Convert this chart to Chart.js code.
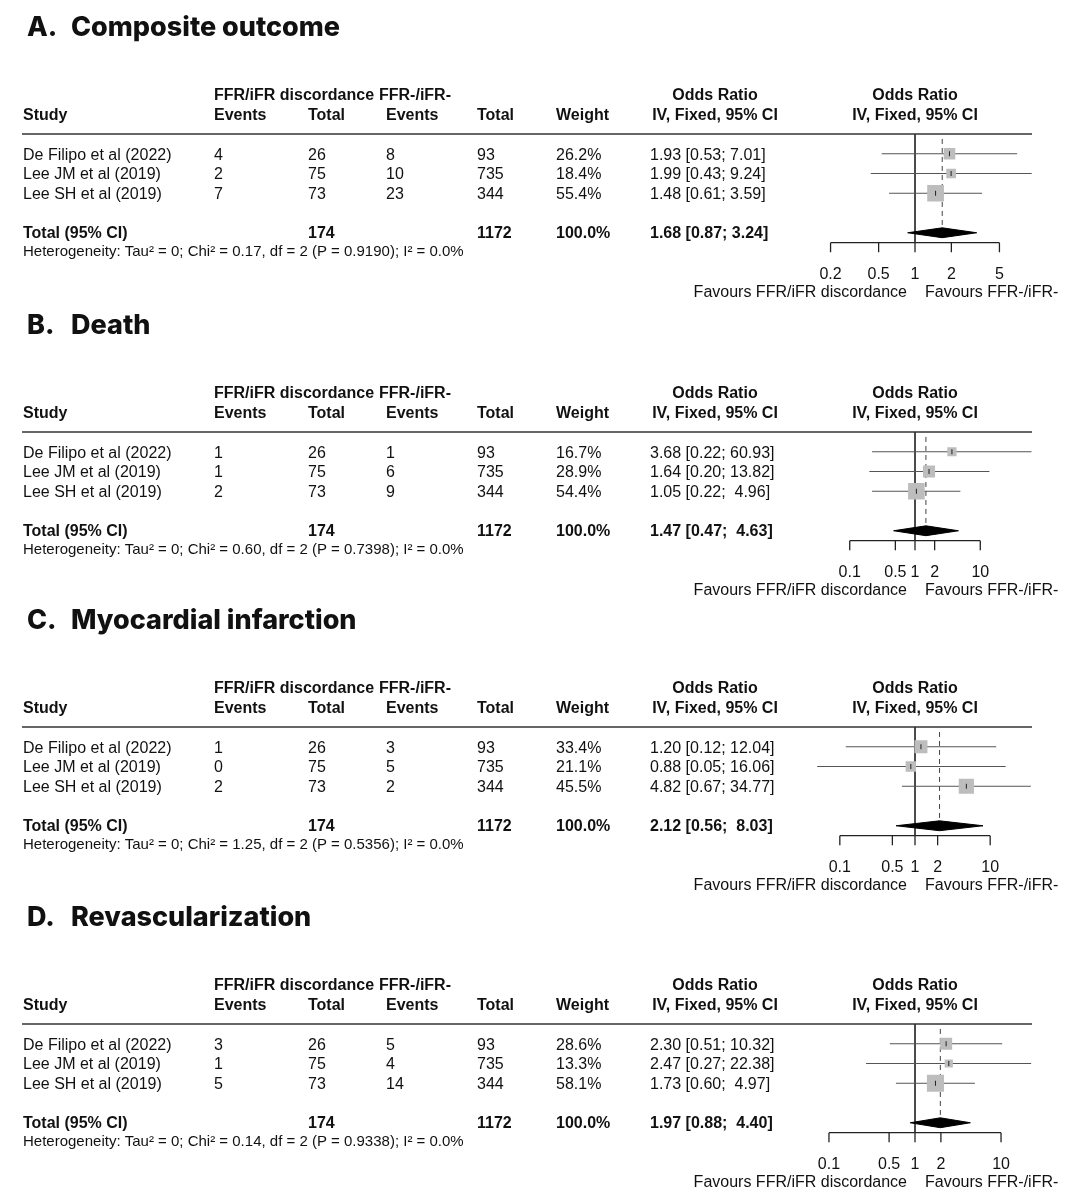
<!DOCTYPE html>
<html lang="en">
<head>
<meta charset="UTF-8" />
<title>Forest plots - FFR/iFR discordance</title>
<script src="https://cdn.jsdelivr.net/npm/chart.js"></script>
<style>
  body { margin: 0; background: #fff; }
  .panel { position: absolute; left: 0; width: 1079px; }
  canvas { display: block; }
</style>
</head>
<body>
  <div class="panel" style="top:0px"><canvas id="panel0" width="1079" height="302"></canvas></div>
  <div class="panel" style="top:298px"><canvas id="panel1" width="1079" height="302"></canvas></div>
  <div class="panel" style="top:593px"><canvas id="panel2" width="1079" height="302"></canvas></div>
  <div class="panel" style="top:890px"><canvas id="panel3" width="1079" height="310"></canvas></div>

<script>
// ---- data ----
const panelLetters = ['A.', 'B.', 'C.', 'D.'];
const panelTitles = ['Composite outcome', 'Death', 'Myocardial infarction', 'Revascularization'];
const studies = ['De Filipo et al (2022)', 'Lee JM et al (2019)', 'Lee SH et al (2019)'];
const discTotal = [26, 75, 73];
const negTotal = [93, 735, 344];
const discSum = 174;
const negSum = 1172;

const discEvents = [[4, 2, 7], [1, 1, 2], [1, 0, 2], [3, 1, 5]];
const negEvents = [[8, 10, 23], [1, 6, 9], [3, 5, 2], [5, 4, 14]];
const weights = [[26.2, 18.4, 55.4], [16.7, 28.9, 54.4], [33.4, 21.1, 45.5], [28.6, 13.3, 58.1]];
const orEst = [[1.93, 1.99, 1.48], [3.68, 1.64, 1.05], [1.20, 0.88, 4.82], [2.30, 2.47, 1.73]];
const orLow = [[0.53, 0.43, 0.61], [0.22, 0.20, 0.22], [0.12, 0.05, 0.67], [0.51, 0.27, 0.60]];
const orHigh = [[7.01, 9.24, 3.59], [60.93, 13.82, 4.96], [12.04, 16.06, 34.77], [10.32, 22.38, 4.97]];
const orLabels = [
  ['1.93 [0.53; 7.01]', '1.99 [0.43; 9.24]', '1.48 [0.61; 3.59]'],
  ['3.68 [0.22; 60.93]', '1.64 [0.20; 13.82]', '1.05 [0.22;  4.96]'],
  ['1.20 [0.12; 12.04]', '0.88 [0.05; 16.06]', '4.82 [0.67; 34.77]'],
  ['2.30 [0.51; 10.32]', '2.47 [0.27; 22.38]', '1.73 [0.60;  4.97]']
];
const pooledEst = [1.68, 1.47, 2.12, 1.97];
const pooledLow = [0.87, 0.47, 0.56, 0.88];
const pooledHigh = [3.24, 4.63, 8.03, 4.40];
const pooledLabels = ['1.68 [0.87; 3.24]', '1.47 [0.47;  4.63]', '2.12 [0.56;  8.03]', '1.97 [0.88;  4.40]'];
const hetLabels = [
  'Heterogeneity: Tau\u00b2 = 0; Chi\u00b2 = 0.17, df = 2 (P = 0.9190); I\u00b2 = 0.0%',
  'Heterogeneity: Tau\u00b2 = 0; Chi\u00b2 = 0.60, df = 2 (P = 0.7398); I\u00b2 = 0.0%',
  'Heterogeneity: Tau\u00b2 = 0; Chi\u00b2 = 1.25, df = 2 (P = 0.5356); I\u00b2 = 0.0%',
  'Heterogeneity: Tau\u00b2 = 0; Chi\u00b2 = 0.14, df = 2 (P = 0.9338); I\u00b2 = 0.0%'
];
const axisTicks = [[0.2, 0.5, 1, 2, 5], [0.1, 0.5, 1, 2, 10], [0.1, 0.5, 1, 2, 10], [0.1, 0.5, 1, 2, 10]];
const xLimits = [9.3, 62, 36, 22.9];

// ---- layout ----
const ROW_PX = 19.75;
const TOP = 134;
const PLOT_LEFT = 798;
const PLOT_RIGHT = 1032;
const TEXT = '#111';
const FONT = '"Liberation Sans", Arial, sans-serif';

Chart.defaults.font.family = FONT;

function seg(x1, y1, x2, y2, extra) {
  return Object.assign({
    type: 'line',
    data: [{ x: x1, y: y1 }, { x: x2, y: y2 }],
    borderColor: '#444',
    borderWidth: 1,
    pointRadius: 0,
    fill: false,
    tension: 0,
    order: 5
  }, extra || {});
}

const tablePlugin = {
  id: 'forestTable',
  afterDraw(chart) {
    const p = chart.options.plugins.forestTable.panel;
    const ctx = chart.ctx;
    const xs = chart.scales.x, ys = chart.scales.y;
    const rowY = r => ys.getPixelForValue(r);
    const y0 = rowY(0);
    const x1 = xs.getPixelForValue(1);

    ctx.save();
    ctx.fillStyle = TEXT;
    ctx.textBaseline = 'middle';

    // title
    ctx.font = '800 27px Inter, sans-serif';
    ctx.textAlign = 'left';
    ctx.fillText(panelLetters[p], 27, 28);
    ctx.fillText(panelTitles[p], 71, 28);

    // column headers
    ctx.font = 'bold 16px ' + FONT;
    ctx.fillText('FFR/iFR discordance', 214, y0 - 38);
    ctx.fillText('FFR-/iFR-', 379, y0 - 38);
    ctx.fillText('Study', 23, y0 - 18);
    ctx.fillText('Events', 214, y0 - 18);
    ctx.fillText('Total', 308, y0 - 18);
    ctx.fillText('Events', 386, y0 - 18);
    ctx.fillText('Total', 477, y0 - 18);
    ctx.fillText('Weight', 556, y0 - 18);
    ctx.textAlign = 'center';
    ctx.fillText('Odds Ratio', 715, y0 - 38);
    ctx.fillText('IV, Fixed, 95% CI', 715, y0 - 18);
    ctx.fillText('Odds Ratio', x1, y0 - 38);
    ctx.fillText('IV, Fixed, 95% CI', x1, y0 - 18);

    // separator
    ctx.strokeStyle = '#333';
    ctx.lineWidth = 1.5;
    ctx.beginPath();
    ctx.moveTo(22, y0);
    ctx.lineTo(xs.right, y0);
    ctx.stroke();

    // study rows
    ctx.textAlign = 'left';
    ctx.font = '16px ' + FONT;
    studies.forEach((s, i) => {
      const y = rowY(i + 1) + 1.5;
      ctx.fillText(s, 23, y);
      ctx.fillText(String(discEvents[p][i]), 214, y);
      ctx.fillText(String(discTotal[i]), 308, y);
      ctx.fillText(String(negEvents[p][i]), 386, y);
      ctx.fillText(String(negTotal[i]), 477, y);
      ctx.fillText(weights[p][i].toFixed(1) + '%', 556, y);
      ctx.fillText(orLabels[p][i], 650, y);
    });

    // total row
    const yt = rowY(5) + 0.5;
    ctx.font = 'bold 16px ' + FONT;
    ctx.fillText('Total (95% CI)', 23, yt);
    ctx.fillText(String(discSum), 308, yt);
    ctx.fillText(String(negSum), 477, yt);
    ctx.fillText('100.0%', 556, yt);
    ctx.fillText(pooledLabels[p], 650, yt);

    ctx.font = '15px ' + FONT;
    ctx.fillText(hetLabels[p], 23, rowY(5) + 19);

    // axis labels
    ctx.font = '16px ' + FONT;
    ctx.textAlign = 'center';
    axisTicks[p].forEach(t => {
      ctx.fillText(String(t), xs.getPixelForValue(t), rowY(5.5) + 31.5);
    });
    ctx.textAlign = 'right';
    ctx.fillText('Favours FFR/iFR discordance', x1 - 8, rowY(5.5) + 50);
    ctx.textAlign = 'left';
    ctx.fillText('Favours FFR-/iFR-', x1 + 10, rowY(5.5) + 50);
    ctx.restore();
  }
};

function buildPanel(p) {
  const canvas = document.getElementById('panel' + p);
  const H = canvas.height;
  const ticks = axisTicks[p];
  const datasets = [];

  // confidence intervals
  for (let i = 0; i < 3; i++) {
    datasets.push(seg(orLow[p][i], i + 1, orHigh[p][i], i + 1, { borderColor: '#555', order: 4 }));
  }
  // weighted squares
  datasets.push({
    type: 'scatter',
    data: orEst[p].map((v, i) => ({ x: v, y: i + 1 })),
    pointStyle: 'rect',
    pointRadius: c => 2.25 * Math.sqrt(weights[p][c.dataIndex]) / Math.SQRT2,
    backgroundColor: '#bdbdbd',
    borderWidth: 0,
    order: 3
  });
  // point estimate marks
  datasets.push({
    type: 'scatter',
    data: orEst[p].map((v, i) => ({ x: v, y: i + 1 })),
    pointStyle: 'line',
    rotation: 90,
    pointRadius: 2.5,
    borderColor: '#222',
    borderWidth: 1,
    order: 2
  });
  // pooled diamond
  datasets.push({
    type: 'line',
    data: [
      { x: pooledLow[p], y: 5 }, { x: pooledEst[p], y: 4.75 },
      { x: pooledHigh[p], y: 5 }, { x: pooledEst[p], y: 5.25 },
      { x: pooledLow[p], y: 5 }
    ],
    borderColor: '#000',
    backgroundColor: '#000',
    borderWidth: 1,
    pointRadius: 0,
    tension: 0,
    fill: 'shape',
    order: 1
  });
  // no effect line, pooled dashed line
  datasets.push(seg(1, 0, 1, 5.5, { borderColor: '#333' }));
  datasets.push(seg(pooledEst[p], 0.25, pooledEst[p], 4.75, { borderColor: '#444', borderDash: [5, 4] }));
  // x axis with ticks
  datasets.push(seg(ticks[0], 5.5, ticks[ticks.length - 1], 5.5, { borderColor: '#222', borderWidth: 1.3 }));
  ticks.forEach(t => datasets.push(seg(t, 5.5, t, 6, { borderColor: '#222', borderWidth: 1.3 })));

  new Chart(canvas, {
    type: 'scatter',
    data: { datasets },
    options: {
      responsive: false,
      animation: false,
      devicePixelRatio: 1,
      events: [],
      layout: {
        padding: { left: PLOT_LEFT, right: 1079 - PLOT_RIGHT, top: TOP, bottom: H - TOP - 6 * ROW_PX }
      },
      scales: {
        x: { type: 'logarithmic', min: 1 / xLimits[p], max: xLimits[p], display: false },
        y: { type: 'linear', min: 0, max: 6, reverse: true, display: false }
      },
      plugins: {
        legend: { display: false },
        tooltip: { enabled: false },
        forestTable: { panel: p }
      }
    },
    plugins: [tablePlugin]
  });
}

for (let p = 0; p < 4; p++) buildPanel(p);
</script>
</body>
</html>
